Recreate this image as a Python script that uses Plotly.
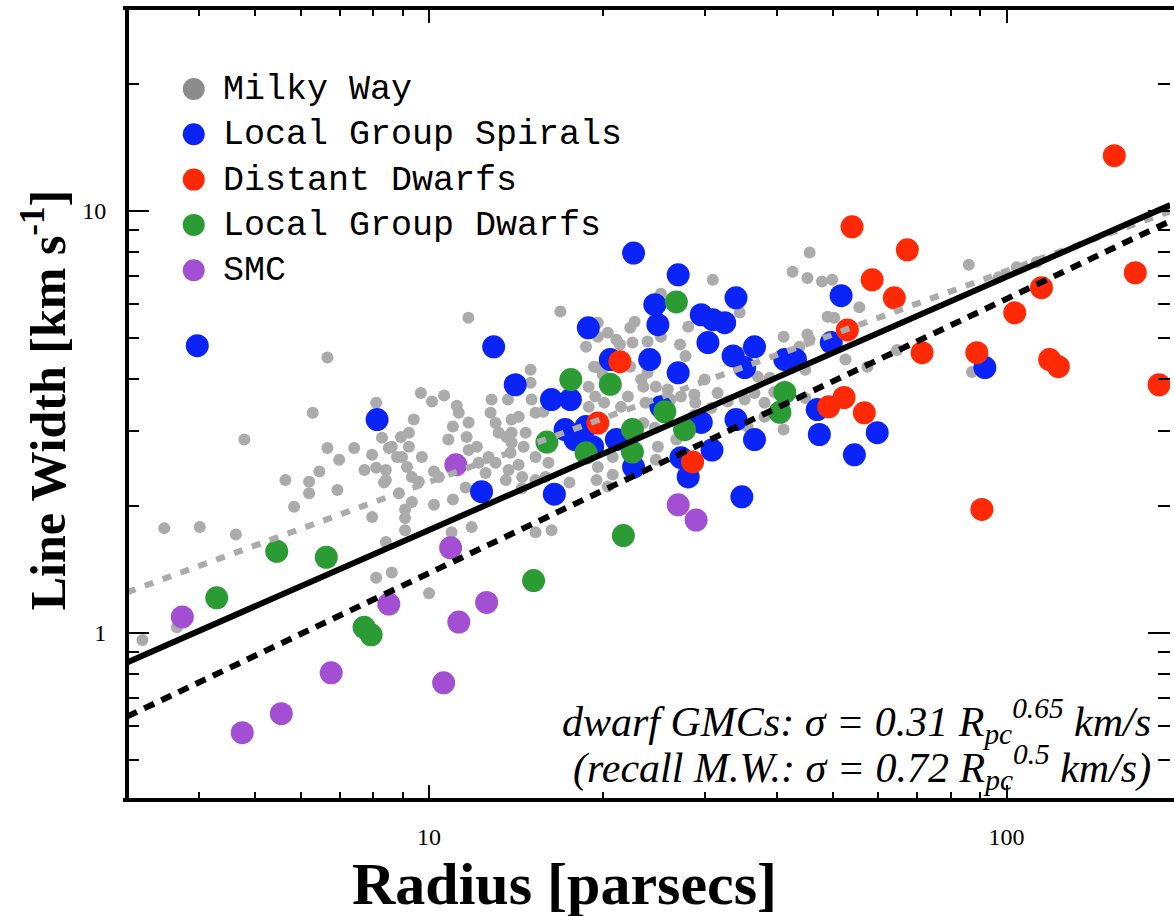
import numpy as np
import plotly.graph_objects as go

# ---- Molecular cloud size / line-width data (radius in pc, sigma in km/s) ----
mw_radius = [11.7, 6.67, 6.29, 4.79, 8.10, 9.68, 10.12, 10.62, 11.17, 11.71, 12.83, 12.78, 13.04, 13.90,
             13.90, 9.41, 9.23, 8.29, 7.97, 8.62, 8.98, 9.16, 9.72, 11.0, 11.62, 10.8, 12.1, 12.19, 13.04,
             13.73, 7.42, 6.67, 6.99, 6.46, 6.20, 5.64, 6.20, 6.94, 7.73, 8.10, 8.36, 9.34, 9.60, 10.40,
             8.87, 9.34, 10.2, 11.0, 7.97, 9.09, 9.09, 5.84, 3.48, 4.01, 4.63, 11.85, 10.94, 8.42, 8.10,
             8.62, 10.0, 3.19, 3.66, 8.52, 8.80, 16.88, 14.99, 14.99, 11.26, 13.20, 13.62, 13.90, 15.05,
             15.29, 15.78, 8.94, 9.23, 11.71, 12.68, 13.84, 14.29, 15.29, 14.58, 10.2, 12.53, 8.42, 8.42,
             9.09, 11.57, 13.58, 14.47, 15.29, 15.91, 17.5, 15.29, 16.3, 45.6, 42.6, 45.2, 47.9, 49.9,
             31.0, 28.1, 25.2, 22.3, 19.6, 19.6, 22.7, 22.5, 23.9, 25.2, 27.2, 27.8, 21.1, 18.7, 19.6,
             18.9, 19.4, 18.9, 20.1, 22.3, 23.9, 23.5, 24.7, 25.9, 22.1, 23.7, 21.5, 23.5, 26.2, 27.3,
             28.8, 30.0, 28.9, 31.6, 32.9, 35.2, 36.6, 38.1, 39.6, 41.1, 38.1, 37.1, 38.9, 30.8, 24.6,
             26.8, 28.8, 41.1, 35.6, 20.8, 19.6, 24.9, 24.7, 34.5, 43.8, 45.6, 49.0, 34.8, 13.7, 14.3,
             14.7, 16.1, 14.5, 20.4, 19.3, 20.0, 23.3, 20.4, 21.4, 55.6, 50.3, 45.2, 52.6, 57.4, 64.6,
             87.1, 44.8, 86.0, 96.9, 112.7, 104.1, 19.5, 20.8, 44.8]
mw_sigma = [5.58, 4.49, 3.32, 2.87, 3.51, 3.70, 3.53, 3.65, 3.45, 3.15, 3.57, 3.32, 3.14, 3.20,
            2.98, 3.20, 2.98, 2.90, 2.64, 2.76, 2.61, 2.47, 2.61, 3.08, 2.91, 2.87, 2.76, 2.53, 2.53,
            2.43, 2.74, 2.74, 2.57, 2.41, 2.28, 2.30, 2.14, 2.18, 2.43, 2.46, 2.27, 2.34, 2.28, 2.34,
            2.14, 2.04, 2.01, 2.07, 1.88, 1.87, 1.75, 1.99, 1.77, 1.78, 1.71, 1.78, 1.73, 1.64, 1.35,
            1.39, 1.24, 0.962, 1.03, 2.74, 2.61, 5.77, 4.20, 3.91, 3.32, 2.98, 2.91, 2.82, 3.57,
            3.32, 3.34, 2.91, 2.76, 2.71, 2.61, 2.67, 2.50, 2.61, 2.76, 2.41, 2.39, 2.43, 2.30,
            1.96, 2.21, 2.30, 2.20, 2.30, 2.34, 2.27, 1.73, 1.75, 7.96, 7.17, 6.93, 6.80, 6.86,
            6.86, 5.31, 6.36, 5.28, 5.43, 5.03, 5.46, 4.87, 4.90, 5.03, 4.82, 4.53, 4.95, 4.76, 4.25,
            3.83, 3.63, 3.43, 3.51, 4.27, 4.13, 3.83, 3.83, 3.77, 3.63, 3.51, 3.43, 3.14, 3.57, 3.63,
            3.67, 3.98, 3.51, 3.70, 3.53, 3.57, 3.70, 3.51, 3.72, 5.03, 3.25, 4.04, 4.02, 3.41, 3.06,
            2.87, 3.28, 3.03, 3.08, 2.61, 2.47, 2.76, 2.57, 5.74, 4.76, 4.95, 5.61, 4.61, 3.57, 3.25,
            2.98, 2.53, 2.34, 2.22, 4.27, 4.08, 3.98, 5.14, 4.82, 5.91, 5.58, 5.09, 4.44, 4.27, 4.68,
            4.15, 4.20, 7.45, 6.96, 7.55, 7.35, 2.30, 2.37, 3.60]

lg_spiral_radius = [3.97, 8.13, 12.94, 12.33, 16.48, 14.1, 16.29, 17.57, 18.87, 22.6, 27.0, 24.6, 24.9,
                    34.0, 29.6, 31.0, 32.5, 30.4, 33.6, 36.6, 35.2, 41.3, 43.1, 51.7, 49.7, 47.0, 47.4,
                    36.6, 34.0, 34.8, 29.6, 30.9, 27.3, 28.1, 22.6, 25.2, 24.1, 27.0, 20.6, 17.2, 17.9,
                    18.7, 19.2, 21.1, 59.7, 54.5, 91.7]
lg_spiral_sigma = [4.79, 3.20, 4.76, 2.16, 2.13, 3.87, 3.57, 3.57, 5.28, 7.94, 7.05, 5.99, 5.37,
                   6.22, 5.67, 5.52, 5.43, 4.87, 4.53, 4.76, 4.25, 4.44, 4.44, 6.29, 4.87, 3.38, 2.95,
                   2.87, 3.20, 2.10, 3.15, 2.71, 2.60, 2.34, 2.47, 3.43, 4.44, 4.13, 4.44, 3.03, 2.87,
                   3.08, 2.76, 2.87, 2.98, 2.64, 4.25]

dist_dwarf_radius = [153.6, 54.0, 67.3, 58.5, 63.9, 53.0, 21.4, 19.6, 28.6, 114.9, 103.3, 167.0, 71.4,
                     88.8, 118.7, 122.9, 183.6, 90.6, 52.3, 49.2, 56.7]
dist_dwarf_sigma = [13.5, 9.16, 8.08, 6.86, 6.22, 5.22, 4.39, 3.14, 2.54, 6.57, 5.73, 7.13, 4.61,
                    4.61, 4.44, 4.27, 3.87, 1.96, 3.61, 3.43, 3.32]

lg_dwarf_radius = [4.29, 5.45, 6.64, 7.72, 7.94, 15.17, 21.7, 17.6, 16.0, 26.8, 20.6, 18.7, 25.6,
                   22.5, 22.5, 27.7, 41.3, 40.5]
lg_dwarf_sigma = [1.21, 1.56, 1.51, 1.03, 0.989, 1.33, 1.70, 3.98, 2.83, 6.08, 3.88, 2.67, 3.34,
                  3.03, 2.68, 3.03, 3.71, 3.33]

smc_radius = [3.74, 4.75, 5.55, 6.77, 8.52, 11.26, 10.6, 12.58, 11.13, 10.9, 27.0, 29.0]
smc_sigma = [1.09, 0.580, 0.643, 0.804, 1.17, 1.06, 0.761, 1.18, 2.50, 1.59, 2.01, 1.85]

# ---- Power-law relations sigma = A * R^b ----
mw_coef, mw_index = 0.72, 0.5          # Milky Way (Solomon et al.)
dwarf_coef, dwarf_index = 0.31, 0.65   # dwarf GMCs
all_coef, all_index = 0.44, 0.60       # fit to the full sample
line_radius = np.array([3.0, 192.0])

# ---- Axis extents ----
x_min, x_max = 3.0, 191.8
y_min, y_max = 0.406, 29.9

x_major = [10, 100]
x_minor = [4, 5, 6, 7, 8, 9, 20, 30, 40, 50, 60, 70, 80, 90]
y_major = [1, 10]
y_minor = [0.5, 0.6, 0.7, 0.8, 0.9, 2, 3, 4, 5, 6, 7, 8, 9, 20]

legend_names = ["Milky Way", "Local Group Spirals", "Distant Dwarfs", "Local Group Dwarfs", "SMC"]
legend_colors = ["#8c8c8c", "#0a24f8", "#ff2a05", "#2b9b34", "#a34fd4"]

GRAY = "#ababab"
BIG = 23

fig = go.Figure()

fig.add_trace(go.Scatter(x=mw_radius, y=mw_sigma, mode="markers",
                         marker=dict(size=12, color=GRAY, line=dict(width=0))))
fig.add_trace(go.Scatter(x=lg_spiral_radius, y=lg_spiral_sigma, mode="markers",
                         marker=dict(size=BIG, color=legend_colors[1], line=dict(width=0))))
fig.add_trace(go.Scatter(x=dist_dwarf_radius, y=dist_dwarf_sigma, mode="markers",
                         marker=dict(size=BIG, color=legend_colors[2], line=dict(width=0))))
fig.add_trace(go.Scatter(x=lg_dwarf_radius, y=lg_dwarf_sigma, mode="markers",
                         marker=dict(size=BIG, color=legend_colors[3], line=dict(width=0))))
fig.add_trace(go.Scatter(x=smc_radius, y=smc_sigma, mode="markers",
                         marker=dict(size=BIG, color=legend_colors[4], line=dict(width=0))))

fig.add_trace(go.Scatter(x=line_radius, y=mw_coef * line_radius ** mw_index, mode="lines",
                         line=dict(color=GRAY, width=6, dash="9px,10px")))
fig.add_trace(go.Scatter(x=line_radius, y=dwarf_coef * line_radius ** dwarf_index, mode="lines",
                         line=dict(color="black", width=6, dash="11px,8px")))
fig.add_trace(go.Scatter(x=line_radius, y=all_coef * line_radius ** all_index, mode="lines",
                         line=dict(color="black", width=6)))

tick_font = dict(family="Liberation Serif", size=24, color="black")

fig.update_xaxes(
    type="log", range=[np.log10(x_min), np.log10(x_max)],
    showgrid=False, zeroline=False,
    showline=True, linecolor="black", linewidth=4, mirror="ticks",
    ticks="inside", ticklen=13, tickwidth=2, tickcolor="black",
    tickmode="array", tickvals=x_major, ticktext=[str(v) for v in x_major],
    tickfont=tick_font, ticklabelstandoff=14,
    minor=dict(tickmode="array", tickvals=x_minor, ticks="inside", ticklen=6,
               tickwidth=2, tickcolor="black"),
)
fig.update_yaxes(
    type="log", range=[np.log10(y_min), np.log10(y_max)],
    showgrid=False, zeroline=False,
    showline=True, linecolor="rgba(0,0,0,0)", linewidth=4, mirror="ticks",
    ticks="inside", ticklen=22, tickwidth=2, tickcolor="black",
    tickmode="array", tickvals=y_major, ticktext=[str(v) for v in y_major],
    tickfont=tick_font, ticklabelstandoff=12,
    minor=dict(tickmode="array", tickvals=y_minor, ticks="inside", ticklen=12,
               tickwidth=2, tickcolor="black"),
)

# plot geometry in pixels
L, R_, T, B = 127, 0, 10, 118
W, H = 1174, 916
pw, ph = W - L - R_, H - T - B


def px(xp):
    return (xp - L) / pw


def py(yp):
    return (H - B - yp) / ph


shapes = [dict(type="line", xref="paper", yref="paper", x0=0, x1=0, y0=-0.002, y1=1.002,
               line=dict(color="black", width=4))]
annotations = []

# legend: coloured dots with typewriter labels
for i, (name, col) in enumerate(zip(legend_names, legend_colors)):
    yc = 89 + i * 45.3
    shapes.append(dict(type="circle", xref="paper", yref="paper",
                       xsizemode="pixel", ysizemode="pixel",
                       xanchor=px(194), yanchor=py(yc), x0=-11, x1=11, y0=-11, y1=11,
                       fillcolor=col, line=dict(width=0)))
    annotations.append(dict(xref="paper", yref="paper", x=px(221), y=py(yc + 1),
                            xanchor="left", yanchor="middle", showarrow=False, text=name,
                            font=dict(family="Liberation Mono", size=35, color="black")))

eq_font = dict(family="Liberation Serif", size=42, color="black")
annotations.append(dict(xref="paper", yref="paper", x=px(1157), y=py(721), xanchor="right",
                        yanchor="middle", showarrow=False, font=eq_font,
                        text="<i>dwarf GMCs: σ = 0.31 R<sub>pc</sub><sup>0.65</sup> km/s</i>"))
annotations.append(dict(xref="paper", yref="paper", x=px(1157), y=py(767), xanchor="right",
                        yanchor="middle", showarrow=False, font=eq_font,
                        text="<i>(recall M.W.: σ = 0.72 R<sub>pc</sub><sup>0.5</sup> km/s)</i>"))

annotations.append(dict(xref="paper", yref="paper", x=px(566), y=py(884), xanchor="center",
                        yanchor="middle", showarrow=False,
                        font=dict(family="Liberation Serif", size=60, color="black"),
                        text="<b>Radius [parsecs]</b>"))
annotations.append(dict(xref="paper", yref="paper", x=px(44), y=py(400), xanchor="center",
                        yanchor="middle", showarrow=False, textangle=-90,
                        font=dict(family="Liberation Serif", size=50, color="black"),
                        text="<b>Line Width [km s<sup>-1</sup>]</b>"))

fig.update_layout(
    width=W, height=H,
    margin=dict(l=L, r=R_, t=T, b=B, pad=0),
    paper_bgcolor="white", plot_bgcolor="white",
    showlegend=False,
    shapes=shapes, annotations=annotations,
)

fig.write_html("out.html")
